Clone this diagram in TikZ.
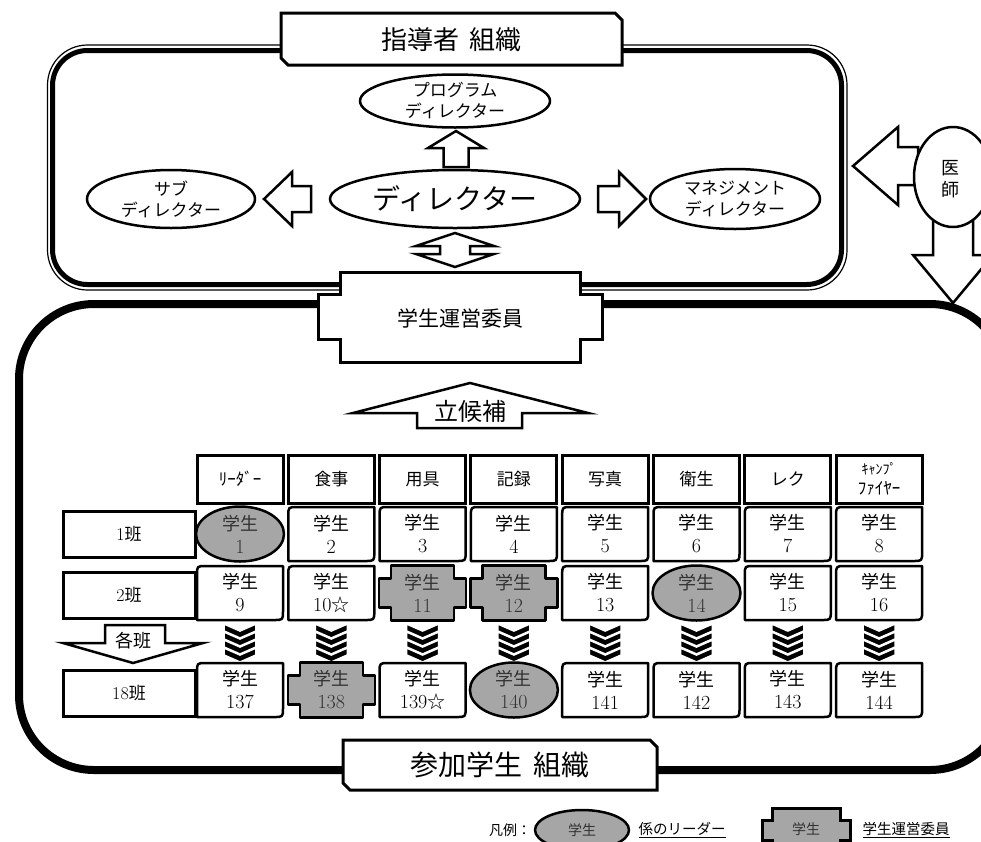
\documentclass[tikz,border=0pt]{standalone}
\usepackage{fontspec}
\newfontfamily\jp{Noto Sans CJK JP}
\usetikzlibrary{shapes.geometric}
\definecolor{gfill}{gray}{0.65}
\newcommand\fsz[2]{\fontsize{#1}{#2}\selectfont}
% student box with rounded top-left and bottom-right corners
\newcommand\studbox[4]{%
  \draw[stline,fill=white] (#2-43,#3-18) .. controls (#2-43,#3-27) .. (#2-34,#3-27) -- (#2+43,#3-27) -- (#2+43,#3+18) .. controls (#2+43,#3+27) .. (#2+34,#3+27) -- (#2-43,#3+27) -- cycle;
  \node[stt] (#1) at (#2,#3) {{\jp 学生}\\{\fsz{20}{23}#4}};}
% generic cross (stepped) shape: x, y, half wide, half narrow, half tall, half short, style
\newcommand\crossshape[7]{%
  \draw[#7] (#1-#4,#2-#5) -- (#1+#4,#2-#5) -- (#1+#4,#2-#6) -- (#1+#3,#2-#6) -- (#1+#3,#2+#6) -- (#1+#4,#2+#6) -- (#1+#4,#2+#5) -- (#1-#4,#2+#5) -- (#1-#4,#2+#6) -- (#1-#3,#2+#6) -- (#1-#3,#2-#6) -- (#1-#4,#2-#6) -- cycle;}
\newcommand\studcross[4]{%
  \crossshape{#2}{#3}{43.5}{31.5}{27.5}{14.5}{stline,fill=gfill}
  \node[stt,text=black!80] (#1) at (#2,#3) {{\jp 学生}\\{\fsz{20}{23}#4}};}
\newcommand\studell[4]{%
  \draw[stline,fill=gfill] (#2,#3) ellipse [x radius=44, y radius=27.5];
  \node[stt,text=black!80] (#1) at (#2,#3) {{\jp 学生}\\{\fsz{20}{23}#4}};}
\newcommand\chevs[1]{%
  \foreach \k in {0,...,3}{\draw[fill=black,draw=white,line width=1.6pt] (#1-16,624+8*\k) -- (#1,631+8*\k) -- (#1+16,624+8*\k) -- (#1+16,631+8*\k) -- (#1,638+8*\k) -- (#1-16,631+8*\k) -- cycle;}}
\begin{document}
\begin{tikzpicture}[x=1pt,y=-1pt,
  bl/.style={draw,line width=2.5pt,fill=white,line join=miter},
  txt/.style={inner sep=0pt,align=center},
  hdr/.style={draw,line width=3pt,fill=white,minimum width=86pt,minimum height=48pt,inner sep=0pt,align=center,font=\jp\fsz{17}{20}},
  lblbox/.style={draw,line width=3pt,fill=white,minimum width=132pt,minimum height=46pt,inner sep=0pt,font=\fsz{18}{20}},
  stt/.style={inner sep=0pt,align=center,font=\fsz{18}{23}},
  stline/.style={line width=2.5pt,line join=round},
  ell/.style={line width=2.5pt,fill=white}]
\useasboundingbox (0,0) rectangle (981,841);
\clip (0,0) rectangle (981,841);
\fill[white] (0,0) rectangle (981,841);

% frames
\draw[line width=1.2pt,rounded corners=40pt] (47.5,45) rectangle (847,290);
\draw[line width=5pt,rounded corners=35pt] (52.5,50.5) rectangle (841.5,284.5);
\draw[line width=8pt,rounded corners=75pt] (19,304) rectangle (1005,770);

% title boxes
\draw[line width=3pt,fill=white] (281,13) -- (615,13) -- (622,20) -- (622,65) -- (288,65) -- (281,58) -- cycle;
\node[txt,font=\jp\fsz{26}{28}] (t1) at (451.5,40) {指導者\hspace{0.4em}組織};
\draw[line width=3pt,fill=white] (343,740) -- (650,740) -- (657,747) -- (657,790) -- (350,790) -- (343,783) -- cycle;
\node[txt,font=\jp\fsz{28}{30}] (t2) at (500,765) {参加学生\hspace{0.4em}組織};

% leader ellipses
\draw[ell] (455,101) ellipse [x radius=95, y radius=26.5];
\node[txt,font=\jp\fsz{17}{21}] (prog) at (455,101) {プログラム\\ディレクター};
\draw[ell] (455,199) ellipse [x radius=125, y radius=29];
\node[txt,font=\jp\fsz{28}{30}] (dir) at (455,199) {ディレクター};
\draw[ell] (171,199) ellipse [x radius=84, y radius=29];
\node[txt,font=\jp\fsz{17}{21}] (sub) at (171,199) {サブ\\ディレクター};
\draw[ell] (735,199) ellipse [x radius=85, y radius=30];
\node[txt,font=\jp\fsz{17}{21}] (mgmt) at (735,199) {マネジメント\\ディレクター};

% arrows in leader frame
\draw[bl] (443.5,167) -- (443.5,148) -- (428,148) -- (456,131) -- (484,148) -- (468.5,148) -- (468.5,167) -- cycle;
\draw[bl] (455,233) -- (494,246) -- (470,246) -- (470,254) -- (494,254) -- (455,267) -- (416,254) -- (440,254) -- (440,246) -- (416,246) -- cycle;
\draw[bl] (311,186) -- (292,186) -- (292,172) -- (264,199) -- (292,226) -- (292,212) -- (311,212) -- cycle;
\draw[bl] (598,186) -- (619,186) -- (619,172) -- (646,199) -- (619,226) -- (619,212) -- (598,212) -- cycle;

% doctor
\draw[bl] (918,147) -- (898,147) -- (898,127) -- (853,166) -- (898,205) -- (898,185) -- (918,185) -- cycle;
\draw[bl] (933,215) -- (973,215) -- (973,255) -- (993,255) -- (953,303) -- (913,255) -- (933,255) -- cycle;
\draw[ell] (953,177) ellipse [x radius=39, y radius=50];
\node[txt,font=\jp\fsz{18}{22}] (doc) at (950,179) {医\\師};

% student committee
\crossshape{460}{317}{142}{120}{45}{22.5}{line width=3pt,fill=white}
\node[txt,font=\jp\fsz{21}{23}] (comm) at (460,318) {学生運営委員};

% candidacy arrow
\draw[bl] (417,428) -- (417,413) -- (353,413) -- (470,383) -- (588,413) -- (522,413) -- (522,428) -- cycle;
\node[txt,font=\jp\fsz{24}{26}] (cand) at (470,411) {立候補};

% header row
\node[hdr] (h1) at (240,479) {\fsz{17}{20}ﾘｰﾀﾞｰ};
\node[hdr] (h2) at (331.3,479) {食事};
\node[hdr] (h3) at (422.6,479) {用具};
\node[hdr] (h4) at (513.9,479) {記録};
\node[hdr] (h5) at (605.2,479) {写真};
\node[hdr] (h6) at (696.5,479) {衛生};
\node[hdr] (h7) at (787.8,479) {レク};
\node[hdr] (h8) at (879.1,479) {\fsz{14}{25}ｷｬﾝﾌﾟ\\ﾌｧｲﾔｰ};

% group labels
\node[lblbox] (g1) at (129,534) {1{\jp\fsz{17}{20}班}};
\node[lblbox] (g2) at (129,595) {2{\jp\fsz{17}{20}班}};
\node[lblbox] (g18) at (129,693) {18{\jp\fsz{17}{20}班}};
\draw[bl] (105,625) -- (165,625) -- (165,643) -- (203,643) -- (133,663) -- (63,643) -- (105,643) -- cycle;
\node[txt,font=\jp\fsz{18}{20}] (each) at (133,641) {各班};

% row 1
\studell{s1}{240}{534}{1}
\studbox{s2}{331.3}{534}{2}
\studbox{s3}{422.6}{534}{3}
\studbox{s4}{513.9}{534}{4}
\studbox{s5}{605.2}{534}{5}
\studbox{s6}{696.5}{534}{6}
\studbox{s7}{787.8}{534}{7}
\studbox{s8}{879.1}{534}{8}
% row 2
\studbox{s9}{240}{593}{9}
\studbox{s10}{331.3}{593}{10{\jp\fsz{18}{23}☆}}
\studcross{s11}{422.6}{593}{11}
\studcross{s12}{513.9}{593}{12}
\studbox{s13}{605.2}{593}{13}
\studell{s14}{696.5}{593}{14}
\studbox{s15}{787.8}{593}{15}
\studbox{s16}{879.1}{593}{16}
% chevrons
\chevs{240}\chevs{331.3}\chevs{422.6}\chevs{513.9}\chevs{605.2}\chevs{696.5}\chevs{787.8}\chevs{879.1}
% row 18
\studbox{s137}{240}{690}{137}
\studcross{s138}{331.3}{690}{138}
\studbox{s139}{422.6}{690}{139{\jp\fsz{18}{23}☆}}
\studell{s140}{513.9}{690}{140}
\studbox{s141}{605.2}{690}{141}
\studbox{s142}{696.5}{690}{142}
\studbox{s143}{787.8}{690}{143}
\studbox{s144}{879.1}{690}{144}

% legend
\node[txt,font=\jp\fsz{14}{16}] (lg) at (510,830) {凡例：};
\draw[stline,fill=gfill] (582,830) ellipse [x radius=47, y radius=20];
\node[txt,font=\jp\fsz{14}{16},text=black!80] (lge) at (582,830) {学生};
\node[txt,font=\jp\fsz{14.5}{16}] (lgt1) at (682,830) {\underline{係のリーダー}};
\crossshape{806}{830}{44}{34}{22}{10}{line width=3pt,fill=gfill}
\node[txt,font=\jp\fsz{14}{16},text=black!80] (lgc) at (806,829) {学生};
\node[txt,font=\jp\fsz{14.5}{16}] (lgt2) at (906,830) {\underline{学生運営委員}};
\end{tikzpicture}
\end{document}
